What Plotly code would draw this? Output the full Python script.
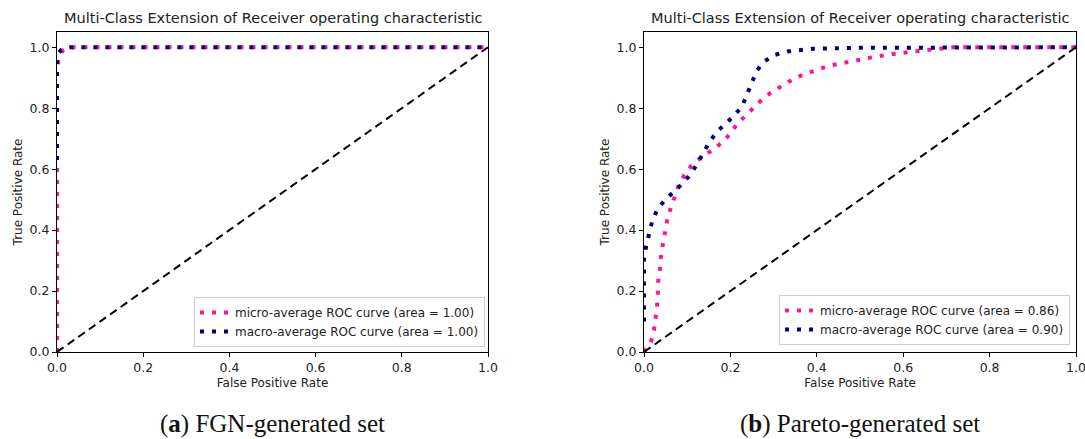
import plotly.graph_objects as go

# ---- data ----
fgn_micro_fpr = [0.0, 0.0, 0.0, 0.004, 0.008, 0.014, 0.022, 0.04, 1.0]
fgn_micro_tpr = [0.0, 0.5, 0.93, 0.96, 0.978, 0.99, 0.996, 1.0, 1.0]
fgn_macro_fpr = [0.0, 0.0, 0.004, 0.01, 0.02, 0.03, 1.0]
fgn_macro_tpr = [0.63, 0.965, 0.982, 0.992, 0.998, 1.0, 1.0]

par_micro_fpr = [0.0, 0.016, 0.023, 0.027, 0.03, 0.032, 0.033, 0.037, 0.039, 0.044, 0.049, 0.054,
                 0.062, 0.07, 0.08, 0.093, 0.109, 0.128, 0.148, 0.169, 0.187, 0.202, 0.218, 0.237,
                 0.254, 0.272, 0.292, 0.311, 0.335, 0.358, 0.381, 0.405, 0.428, 0.477, 0.539,
                 0.593, 0.655, 0.716, 1.0]
par_micro_tpr = [0.0, 0.033, 0.071, 0.11, 0.148, 0.19, 0.233, 0.274, 0.31, 0.356, 0.394, 0.435,
                 0.473, 0.509, 0.545, 0.58, 0.61, 0.633, 0.652, 0.674, 0.695, 0.725, 0.752, 0.778,
                 0.803, 0.827, 0.849, 0.867, 0.887, 0.904, 0.917, 0.928, 0.939, 0.954, 0.97,
                 0.981, 0.992, 1.0, 1.0]
par_macro_fpr = [0.0, 0.0, 0.005, 0.012, 0.019, 0.031, 0.049, 0.07, 0.091, 0.109, 0.125, 0.138,
                 0.152, 0.169, 0.188, 0.21, 0.228, 0.239, 0.249, 0.261, 0.278, 0.303, 0.332,
                 0.362, 0.391, 0.42, 0.5, 1.0]
par_macro_tpr = [0.1, 0.307, 0.347, 0.389, 0.43, 0.468, 0.5, 0.527, 0.555, 0.586, 0.621, 0.656,
                 0.69, 0.723, 0.75, 0.777, 0.809, 0.847, 0.884, 0.923, 0.953, 0.975, 0.986,
                 0.991, 0.995, 0.996, 0.998, 1.0]

diag = [0.0, 1.0]
micro_labels = ["micro-average ROC curve (area = 1.00)", "micro-average ROC curve (area = 0.86)"]
macro_labels = ["macro-average ROC curve (area = 1.00)", "macro-average ROC curve (area = 0.90)"]
title_text = "Multi-Class Extension of Receiver operating characteristic"
captions = ["(<b>a</b>) FGN-generated set", "(<b>b</b>) Pareto-generated set"]
tick_vals = [0.0, 0.2, 0.4, 0.6, 0.8, 1.0]

PINK = "#FF1493"
NAVY = "#000080"
FONT = "DejaVu Sans"
DOT = "4px,8px"
TXT = "#222"

fig = go.Figure()

panels = [
    (fgn_micro_fpr, fgn_micro_tpr, fgn_macro_fpr, fgn_macro_tpr, "x", "y", "legend"),
    (par_micro_fpr, par_micro_tpr, par_macro_fpr, par_macro_tpr, "x2", "y2", "legend2"),
]
for i, (mx, my, Mx, My, xa, ya, lg) in enumerate(panels):
    fig.add_trace(go.Scatter(x=mx, y=my, mode="lines", name=micro_labels[i], xaxis=xa, yaxis=ya,
                             legend=lg, line=dict(color=PINK, width=4, dash=DOT)))
    fig.add_trace(go.Scatter(x=Mx, y=My, mode="lines", name=macro_labels[i], xaxis=xa, yaxis=ya,
                             legend=lg, line=dict(color=NAVY, width=4, dash=DOT)))
    fig.add_trace(go.Scatter(x=diag, y=diag, mode="lines", showlegend=False, xaxis=xa, yaxis=ya,
                             line=dict(color="black", width=2, dash="8px,5px")))

W, H = 1085, 439
xd1 = [57 / W, 488 / W]
xd2 = [644 / W, 1076 / W]
yd = [(H - 352) / H, (H - 32) / H]

axis_common = dict(showgrid=False, zeroline=False, showline=True, linecolor="black", linewidth=1,
                   mirror=True, ticks="outside", ticklen=4, tickwidth=1, tickcolor="black",
                   tickfont=dict(family=FONT, size=12.5, color=TXT), tickformat=".1f",
                   tickvals=tick_vals, automargin=False,
                   ticklabelposition="outside", ticklabeloverflow="allow")

xt = dict(text="False Positive Rate", font=dict(family=FONT, size=12, color=TXT), standoff=4)
yt = dict(text="True Positive Rate", font=dict(family=FONT, size=12, color=TXT), standoff=4)

fig.update_layout(
    width=W, height=H, margin=dict(l=0, r=0, t=0, b=0),
    paper_bgcolor="white", plot_bgcolor="white",
    xaxis=dict(domain=xd1, range=[0, 1], anchor="y", title=xt, **axis_common),
    yaxis=dict(domain=yd, range=[0, 1.05], anchor="x", title=yt, **axis_common),
    xaxis2=dict(domain=xd2, range=[0, 1], anchor="y2", title=xt, **axis_common),
    yaxis2=dict(domain=yd, range=[0, 1.05], anchor="x2", title=yt, **axis_common),
    legend=dict(x=485 / W, y=(H - 347) / H, xanchor="right", yanchor="bottom", xref="paper", yref="paper",
                bgcolor="rgba(255,255,255,0.8)", bordercolor="#ccc", borderwidth=1, itemwidth=30,
                font=dict(family=FONT, size=12, color=TXT), tracegroupgap=0),
    legend2=dict(x=1070 / W, y=(H - 345) / H, xanchor="right", yanchor="bottom", xref="paper", yref="paper",
                 bgcolor="rgba(255,255,255,0.8)", bordercolor="#ccc", borderwidth=1, itemwidth=30,
                 font=dict(family=FONT, size=12, color=TXT), tracegroupgap=0),
    showlegend=True,
)

for xd in (xd1, xd2):
    cx = (xd[0] + xd[1]) / 2
    fig.add_annotation(x=cx, y=(H - 18) / H, xref="paper", yref="paper", text=title_text,
                       showarrow=False, font=dict(family=FONT, size=14.5, color=TXT),
                       xanchor="center", yanchor="middle")

for xd, cap in zip((xd1, xd2), captions):
    cx = (xd[0] + xd[1]) / 2
    fig.add_annotation(x=cx, y=(H - 424) / H, xref="paper", yref="paper", text=cap,
                       showarrow=False, font=dict(family="Liberation Serif", size=25, color="#111"),
                       xanchor="center", yanchor="middle")

fig.write_html("out.html", config={"displayModeBar": False},
               post_script="document.body.style.margin='0';document.body.style.overflow='hidden';")
